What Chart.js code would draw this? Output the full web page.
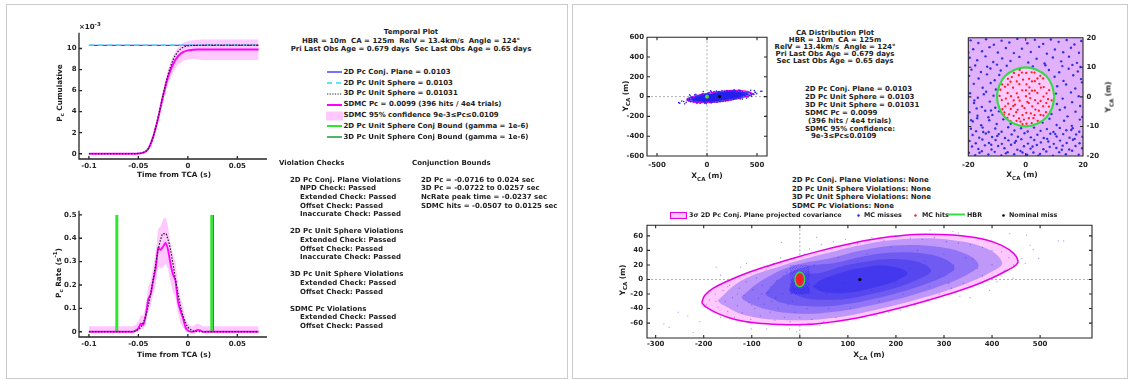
<!DOCTYPE html>
<html><head><meta charset="utf-8">
<script src="https://cdn.jsdelivr.net/npm/chart.js@4.4.1/dist/chart.umd.min.js"></script>
<style>
body{margin:0;width:1130px;height:380px;background:#fff;position:relative;overflow:hidden;font-family:"DejaVu Sans";}
.pn{position:absolute;box-sizing:border-box;border:1.5px solid #cbcbcb;}
.t{position:absolute;font-family:"DejaVu Sans";font-weight:bold;font-size:7px;line-height:9px;white-space:pre;color:#1e1e1e;}
.c{transform:translateX(-50%);}
.r{transform:translate(-50%,-50%) rotate(-90deg);}
canvas{position:absolute;}
sub,sup{font-size:5.5px;line-height:0;}
svg{position:absolute;overflow:visible;}
</style></head><body>
<div class="pn" style="left:6px;top:4px;width:562px;height:375px"></div>
<div class="pn" style="left:572px;top:4px;width:556px;height:375px"></div>
<script>
// ---------- DATA ----------
// Temporal plot: cumulative Pc (values in units of 1e-3)
const tCum = [-0.1,-0.095,-0.09,-0.085,-0.08,-0.075,-0.07,-0.065,-0.06,-0.055,-0.05,-0.045,-0.04,-0.035,-0.03,-0.025,-0.02,-0.015,-0.01,-0.005,0,0.005,0.01,0.015,0.02,0.025,0.03,0.035,0.04,0.045,0.05,0.055,0.06,0.065,0.0715];
const sdmcCumE3 = [0,0,0,0,0,0,0,0,0,0,0.02,0.1,0.45,1.6,3.4,5.5,7.3,8.5,9.25,9.65,9.82,9.87,9.9,9.9,9.9,9.9,9.9,9.9,9.9,9.9,9.9,9.9,9.9,9.9,9.9];
const pc3dCumE3 = [0,0,0,0,0,0,0,0,0,0.005,0.03,0.13,0.5,1.65,3.45,5.6,7.5,8.9,9.7,10.1,10.25,10.29,10.3,10.31,10.31,10.31,10.31,10.31,10.31,10.31,10.31,10.31,10.31,10.31,10.31];
const cumLowE3 = [0,0,0,0,0,0,0,0,0,0,0,0.05,0.35,1.35,3.0,4.95,6.6,7.75,8.45,8.8,8.95,9.0,8.95,8.9,8.9,8.9,8.9,8.9,8.9,8.9,8.9,8.9,8.9,8.9,8.9];
const cumUpE3 = [0,0,0,0,0,0,0,0,0,0,0.05,0.17,0.6,1.9,3.85,6.05,8.0,9.3,10.1,10.5,10.7,10.78,10.83,10.85,10.85,10.85,10.85,10.85,10.85,10.85,10.85,10.85,10.85,10.85,10.85];
const flatT = [-0.1, 0.0715];
const pc2dPlaneE3 = [10.3, 10.3];
const pc2dSphereE3 = [10.3, 10.3];
// Temporal plot: Pc rate (1/s)
const tRate = [-0.1,-0.09,-0.08,-0.07,-0.06,-0.055,-0.0525,-0.05,-0.0475,-0.045,-0.0425,-0.04,-0.0375,-0.035,-0.0325,-0.03,-0.0275,-0.025,-0.0225,-0.02,-0.0175,-0.015,-0.0125,-0.01,-0.0075,-0.005,-0.0025,0,0.0025,0.005,0.0075,0.01,0.0125,0.015,0.02,0.03,0.04,0.05,0.06,0.0715];
const sdmcRate = [0,0,0,0,0,0,0.005,0.015,0.035,0.03,0.07,0.14,0.16,0.22,0.27,0.36,0.35,0.365,0.38,0.35,0.29,0.245,0.22,0.13,0.09,0.06,0.02,0.005,0,0,0.003,0.008,0.006,0,0,0,0,0,0,0];
const pc3dRate = [0,0,0,0,0,0.002,0.005,0.01,0.02,0.04,0.07,0.11,0.165,0.225,0.29,0.35,0.395,0.42,0.42,0.395,0.35,0.29,0.225,0.165,0.11,0.07,0.04,0.02,0.01,0.004,0.002,0,0,0,0,0,0,0,0,0];
const rateUp = [0.024,0.024,0.024,0.024,0.024,0.024,0.03,0.045,0.07,0.07,0.11,0.19,0.22,0.28,0.34,0.44,0.45,0.48,0.49,0.45,0.38,0.33,0.3,0.2,0.15,0.11,0.06,0.035,0.025,0.024,0.03,0.035,0.03,0.024,0.024,0.024,0.024,0.024,0.024,0.024];
const rateLow = [0,0,0,0,0,0,0,0,0.01,0.01,0.04,0.09,0.11,0.16,0.2,0.28,0.27,0.28,0.29,0.27,0.21,0.17,0.15,0.08,0.04,0.02,0,0,0,0,0,0,0,0,0,0,0,0,0,0];
const bound2d = [-0.0716, 0.024];
const bound3d = [-0.0722, 0.0257];
const boundY = [0, 0.5];
// Tick labels
const cumXTicks = [-0.1,-0.05,0,0.05];
const cumYTicks = [0,2,4,6,8,10];
const rateYTicks = [0,0.1,0.2,0.3,0.4,0.5];
const ovTicksX = [-500,0,500];
const ovTicksY = [-600,-400,-200,0,200,400,600];
const zmTicksX = [-20,0,20];
const zmTicksY = [-20,-10,0,10,20];
const btTicksX = [-300,-200,-100,0,100,200,300,400,500];
const btTicksY = [-60,-40,-20,0,20,40,60];
// CA distribution: 3-sigma covariance ellipse boundary (m)
const covEllipseX = [-204,-198,-180,-150,-110,-60,-10,40,90,140,190,240,290,340,385,420,445,454,450,430,400,360,310,260,210,160,110,60,10,-40,-90,-135,-170,-195,-204];
const covEllipseY = [-32,-22,-12,-2,9,20,30,39,47,54,59,62,62,60,55,47,36,26,20,12,2,-9,-20,-30,-39,-47,-54,-59,-62,-62,-60,-55,-47,-38,-32];
// HBR circle (m)
const hbrX = [10,9.2,7.1,3.8,0,-3.8,-7.1,-9.2,-10,-9.2,-7.1,-3.8,0,3.8,7.1,9.2,10];
const hbrY = [0,3.8,7.1,9.2,10,9.2,7.1,3.8,0,-3.8,-7.1,-9.2,-10,-9.2,-7.1,-3.8,0];
const nominalMiss = [[125,0]];
// Density contours of the MC misses cloud (overview scale, outer to inner)
const missDensity90 = [[-171,-29],[-123,-2],[-42,18],[49,35],[139,49],[229,56],[319,54],[391,42],[421,23],[400,11],[337,-8],[247,-27],[157,-42],[67,-53],[-24,-56],[-109,-50],[-163,-34],[-171,-29]];
const missDensity75 = [[-122,-24],[-81,-2],[-14,19],[61,29],[136,41],[211,47],[286,45],[346,35],[372,20],[354,9],[301,-7],[226,-23],[151,-35],[76,-44],[1,-47],[-70,-41],[-115,-29],[-122,-24]];
const missDensity60 = [[-72,-19],[-40,2],[8,17],[74,23],[134,32],[194,37],[254,36],[302,28],[322,16],[308,7],[266,-5],[206,-18],[146,-28],[86,-35],[26,-37],[-31,-33],[-67,-23],[-72,-19]];
const missDensity45 = [[-23,-14],[-6,6],[42,9],[87,18],[132,24],[177,28],[222,27],[258,21],[273,12],[262,5],[231,-4],[186,-14],[141,-21],[96,-27],[51,-28],[8,-25],[-19,-17],[-23,-14]];
const missDensity30 = [[26,-10],[43,-1],[70,6],[100,12],[130,16],[160,19],[190,18],[214,14],[224,8],[217,4],[196,-3],[166,-9],[136,-14],[106,-18],[76,-19],[47,-17],[29,-11],[26,-10]];
// Miss region around the HBR (zoom view), with the HBR disc excluded
const missAroundHbr = [[-21,0],[-21,21],[21,21],[21,-21],[-21,-21],[-21,0],[-10,0],[-9.2,-3.8],[-7.1,-7.1],[-3.8,-9.2],[0,-10],[3.8,-9.2],[7.1,-7.1],[9.2,-3.8],[10,0],[9.2,3.8],[7.1,7.1],[3.8,9.2],[0,10],[-3.8,9.2],[-7.1,7.1],[-9.2,3.8],[-10,0],[-21,0]];
// Individual MC hits (m)
const mcHits = [[-7.2,3.4],[-6.1,-2.3],[-5.3,5.1],[-4.2,-6.4],[-3.1,1.2],[-2.4,7.3],[-1.2,-3.1],[0.3,4.2],[1.1,-7.2],[2.2,2.1],[3.4,-4.3],[4.1,6.2],[5.2,-1.4],[6.3,3.3],[7.1,-5.2],[-8.3,-1.1],[-7.4,-5.3],[-6.2,6.1],[-5.1,0.2],[-4.4,3.1],[-3.2,-8.1],[-2.1,-1.3],[-1.3,8.2],[0.2,-5.4],[1.3,1.1],[2.1,-8.9],[3.2,5.3],[4.3,-2.2],[5.1,7.1],[6.2,-6.3],[7.3,1.2],[8.1,-3.3],[-8.2,4.2],[-6.4,-7.1],[-5.2,-4.1],[-4.1,8.1],[-3.3,-5.2],[-2.2,4.3],[-1.1,-6.2],[0.1,0.2],[1.2,6.1],[2.3,-3.2],[3.1,8.2],[4.2,-8.1],[5.3,3.1],[6.1,-3.2],[8.2,2.3],[-9.1,0.3],[-7.1,-3.2],[-6.3,1.3],[-4.2,-1.2],[-3.1,5.2],[-2.3,-7.3],[-1.2,2.2],[0.3,-9.1],[1.1,-2.1],[2.2,5.2],[3.3,-1.1],[4.1,1.3],[5.2,-6.1],[6.1,6.2],[7.2,-2.1],[-5.3,-8.2],[-2.1,9.1],[0.2,8.1],[1.3,3.2],[3.2,2.1],[-1.1,-9.2],[2.1,8.3],[-8.1,-4.2],[9.1,-1.2],[-4.3,-3.1],[0.1,2.2],[3.1,-6.2],[-6.2,4.1],[6.2,0.1],[-7.6,-6.1],[-3.7,-2.6],[-0.6,-7.7],[1.8,-5.6],[-5.8,-5.9],[4.6,-4.7],[-2.8,-4.4],[-0.4,-3.8],[2.7,-7.2],[-8.8,2.4],[-6.9,-0.6],[-4.8,6.7],[-0.9,5.8],[1.6,-0.4],[4.8,4.4],[7.8,-0.8],[-2.6,-0.2],[0.6,-1.7],[-1.8,-8.4]];
// Individual MC misses (m)
const mcMisses = [
[-19.2,19.1],[-16.5,18.2],[-13.8,19.5],[-11.1,17.6],[-8.4,19.0],[-5.7,18.4],[-2.9,19.6],[0.6,18.1],[3.2,19.3],[6.1,17.9],[8.8,19.4],[11.5,18.6],[14.3,19.2],[17.0,17.7],[19.4,18.9],
[-18.3,16.1],[-15.2,15.4],[-12.6,16.8],[-9.7,15.0],[-6.9,16.5],[-4.1,14.8],[-1.3,16.3],[1.8,15.2],[4.7,16.9],[7.4,14.6],[10.2,16.0],[13.1,15.1],[15.8,16.6],[18.6,14.9],
[-19.5,13.2],[-16.9,12.4],[-14.0,13.7],[-11.3,11.8],[-8.2,13.0],[-5.3,12.1],[-2.2,13.5],[0.9,11.6],[3.8,12.9],[6.6,11.3],[9.5,13.3],[12.4,12.0],[15.1,13.6],[17.9,11.5],
[-17.6,10.6],[-13.4,10.2],[-10.0,10.9],[12.8,10.4],[16.3,10.8],[19.1,10.1],[-6.6,10.5],[6.9,10.7],[2.5,10.3],
[-18.9,9.2],[-15.6,8.4],[-12.3,9.6],[-8.7,8.9],[8.1,9.1],[11.7,8.3],[15.0,9.5],[18.2,8.6],
[-19.7,7.1],[-16.4,6.2],[-13.5,7.6],[-10.8,5.6],[10.1,6.8],[13.2,5.4],[16.6,7.3],[19.3,6.0],[-9.2,7.4],
[-18.1,4.4],[-15.0,3.1],[-12.2,4.7],[-10.4,2.5],[11.0,3.6],[14.1,4.2],[17.3,2.8],[19.6,4.9],
[-19.4,1.2],[-16.7,-0.3],[-13.8,1.7],[-11.2,0.4],[10.6,1.1],[12.9,-0.6],[15.8,1.5],[18.5,0.2],
[-18.0,-2.1],[-15.3,-3.4],[-12.5,-1.6],[-10.6,-3.7],[10.9,-2.4],[13.7,-3.6],[16.2,-1.8],[19.0,-3.1],[-17.1,-3.9],
[-19.6,-5.2],[-16.8,-6.4],[-14.1,-4.7],[-11.6,-6.1],[-9.3,-4.9],[9.0,-5.8],[11.9,-4.4],[14.6,-6.6],[17.4,-5.0],[19.8,-6.8],[-13.0,-6.9],
[-18.4,-8.3],[-15.5,-9.6],[-12.7,-7.9],[-10.1,-9.2],[-7.8,-7.6],[-5.2,-9.1],[5.9,-8.7],[8.3,-7.4],[10.8,-9.5],[13.4,-8.1],[16.1,-9.8],[18.9,-7.7],[-16.9,-7.2],
[-19.1,-10.8],[-17.3,-11.6],[-15.0,-10.4],[-12.9,-11.9],[-10.6,-10.7],[-8.4,-11.8],[-6.1,-10.3],[-3.9,-11.4],[-1.6,-10.6],[0.7,-11.7],[2.9,-10.4],[5.2,-11.5],[7.4,-10.9],[9.7,-11.9],[11.9,-10.5],[14.2,-11.3],[16.4,-10.6],[18.7,-11.8],
[-18.5,-12.9],[-16.2,-13.8],[-13.9,-12.4],[-11.7,-13.6],[-9.4,-12.6],[-7.2,-13.9],[-4.9,-12.7],[-2.7,-13.5],[-0.4,-12.3],[1.8,-13.7],[4.1,-12.8],[6.3,-13.9],[8.6,-12.5],[10.8,-13.4],[13.1,-12.6],[15.3,-13.8],[17.6,-12.7],[19.8,-13.5],
[-19.6,-14.9],[-17.4,-15.7],[-15.1,-14.4],[-12.8,-15.6],[-10.5,-14.6],[-8.3,-15.9],[-6.0,-14.7],[-3.8,-15.5],[-1.5,-14.3],[0.8,-15.8],[3.0,-14.6],[5.3,-15.4],[7.5,-14.2],[9.8,-15.9],[12.0,-14.8],[14.3,-15.6],[16.5,-14.5],[18.8,-15.7],
[-18.7,-16.8],[-16.5,-17.6],[-14.2,-16.4],[-11.9,-17.8],[-9.6,-16.6],[-7.4,-17.4],[-5.1,-16.2],[-2.9,-17.9],[-0.6,-16.7],[1.7,-17.5],[3.9,-16.3],[6.2,-17.7],[8.4,-16.9],[10.7,-17.3],[12.9,-16.5],[15.2,-17.8],[17.4,-16.6],[19.7,-17.4],
[-19.8,-18.9],[-17.6,-19.7],[-15.3,-18.4],[-13.0,-19.5],[-10.8,-18.6],[-8.5,-19.8],[-6.3,-18.7],[-4.0,-19.4],[-1.8,-18.3],[0.5,-19.6],[2.7,-18.8],[5.0,-19.3],[7.2,-18.5],[9.5,-19.9],[11.7,-18.7],[14.0,-19.4],[16.2,-18.2],[18.5,-19.6],
[-17.9,-1.2],[-14.6,0.9],[-12.1,-4.6],[-19.0,-7.9],[-14.8,-11.9],[-9.9,-13.2],[-3.4,-14.9],[2.4,-16.8],[7.9,-15.1],[12.6,-17.9],[17.1,-14.2],[-16.1,-18.9],[-6.9,-19.1],[4.4,-19.9],[10.3,-12.6],[-12.0,-16.2],[15.9,-11.2],[-1.1,-18.8],
[-283,-61],[-272,-66],[-253,-45],[-233,-50],[-222,-73],[-208,-58],[-174,17],[-165,6],[-123,17],[-111,22],[-38,51],[35,58],[-21,-68],[-7,-72],[-69,-68],[-101,-68],[42,-63],[271,68],[319,66],[330,64],[437,63],[472,61],[479,47],[486,41],[497,29],[462,29],[469,22],[444,2],[538,53],[549,53],[354,-25],[333,-23],[410,-3],[395,-15],
[-195,-35],[-188,-28],[-180,-45],[-176,-20],[-170,-38],[-165,-52],[-160,-15],[-155,-30],[-150,-44],[-146,-8],[-140,-25],[-136,-52],[-130,-36],[-126,-12],[-120,-46],[-116,-22],[-112,-3],[-106,-32],[-102,-55],[-98,-14],[-94,-40],[-90,2],[-86,-26],[-82,-50],[-78,-8],[-74,-34],[-70,14],[-66,-18],[-62,-45],[-58,-30],[-55,22],[-52,-56],[-48,-2],[-45,-40],[-40,30],[-36,-20],[-32,-52],[-28,10],[-25,-35],
[20,42],[45,48],[70,52],[95,55],[120,50],[150,58],[175,54],[200,60],[230,57],[255,55],[280,58],[305,52],[330,50],[355,48],[380,44],[400,40],[420,38],[435,30],[445,20],[425,12],[400,20],[380,5],[360,28],[340,-5],[315,-12],[290,-20],[265,-28],[240,-35],[210,-42],[185,-45],[160,-50],[130,-52],[100,-56],[75,-52],[50,-58],[25,-55],[0,-52],[-20,-58],[60,-40],[10,35],[-10,-45],
[-60,-10],[-35,5],[-15,-30],[30,20],[55,-20],[80,30],[105,-40],[140,35],[165,-30],[190,45],[215,-20],[245,40],[270,-10],[300,35],[320,20],[345,30],[370,15],[-50,-25],[-20,15],[15,-40],[40,-10],[90,-5],[120,25],[150,-15],[180,10],[200,-5],[230,15],[260,25],[290,5],[310,-5],[-100,-35],[-80,-20],[-130,-20],[-150,-10],[-175,-30]
];

// ---------- HELPERS ----------
const FONT = {family:'DejaVu Sans', size:7, weight:'bold'};
const INK = '#262626';
const xy = (xs, ys) => xs.map((x,i)=>({x, y:ys[i]}));
const pts = arr => arr.map(p=>({x:p[0], y:p[1]}));
const line = (data, color, w, extra) => Object.assign({data, showLine:true, borderColor:color, borderWidth:w, pointRadius:0, fill:false}, extra||{});
const dots = (data, color, r, order) => ({data, showLine:false, pointRadius:r, pointBorderWidth:0, pointBackgroundColor:color, pointBorderColor:color, order});
const shape = (data, fillColor, border, w, order, tension) => ({data, showLine:true, fill:'shape', backgroundColor:fillColor, borderColor:border||'rgba(0,0,0,0)', borderWidth:w||0, pointRadius:0, tension:tension==null?0.4:tension, order});

const axesPlugin = {
  id:'axes',
  beforeDatasetsDraw(ch, a, o){
    if(!o.cross) return;
    const {ctx, chartArea:A} = ch;
    const x0 = ch.scales.x.getPixelForValue(0), y0 = ch.scales.y.getPixelForValue(0);
    ctx.save(); ctx.strokeStyle='#a8a8a8'; ctx.lineWidth=0.9; ctx.setLineDash([2,2]);
    ctx.beginPath(); ctx.moveTo(x0,A.top); ctx.lineTo(x0,A.bottom); ctx.moveTo(A.left,y0); ctx.lineTo(A.right,y0); ctx.stroke();
    ctx.restore();
  },
  afterDraw(ch, a, o){
    const {ctx, chartArea:A} = ch; const L = o.len||3;
    ctx.save(); ctx.strokeStyle=INK; ctx.lineWidth=o.lw||1.2; ctx.beginPath();
    if(o.box){ ctx.rect(A.left,A.top,A.right-A.left,A.bottom-A.top); }
    else { ctx.moveTo(A.left,A.top); ctx.lineTo(A.left,A.bottom); ctx.lineTo(A.right,A.bottom); }
    const xs=ch.scales.x, ys=ch.scales.y;
    xs.ticks.forEach(t=>{ const p=xs.getPixelForValue(t.value); ctx.moveTo(p,A.bottom); ctx.lineTo(p,A.bottom-L); if(o.box){ctx.moveTo(p,A.top); ctx.lineTo(p,A.top+L);} });
    ys.ticks.forEach(t=>{ const p=ys.getPixelForValue(t.value); ctx.moveTo(A.left,p); ctx.lineTo(A.left+L,p); if(o.box){ctx.moveTo(A.right,p); ctx.lineTo(A.right-L,p);} });
    ctx.stroke(); ctx.restore();
  }
};

function mk(area, yRight, datasets, sx, sy, plug){
  const PAD=6, YW=40, XH=24;
  const c=document.createElement('canvas');
  const left = area.l - (yRight?PAD:YW), top = area.t - PAD;
  const w = (area.r-area.l) + YW + PAD, h = (area.b-area.t) + PAD + XH;
  c.width=w; c.height=h; c.style.left=left+'px'; c.style.top=top+'px';
  document.body.appendChild(c);
  const tk = (arr) => (s => { s.ticks = arr.map(v=>({value:v})); });
  new Chart(c, {type:'scatter', data:{datasets}, plugins:[axesPlugin], options:{
    responsive:false, animation:false, devicePixelRatio:1,
    layout:{padding:{top:PAD, right:yRight?0:PAD, left:yRight?PAD:0, bottom:0}},
    plugins:{legend:{display:false}, tooltip:{enabled:false}, axes:plug},
    scales:{
      x:{type:'linear', min:sx.min, max:sx.max, afterBuildTicks:tk(sx.ticks), afterFit:s=>{s.height=XH;},
         grid:{display:false, drawTicks:false}, border:{display:false},
         ticks:{font:FONT, color:INK, padding:sx.pad, autoSkip:false, maxRotation:0, callback:v=>String(v)}},
      y:{type:'linear', position:yRight?'right':'left', min:sy.min, max:sy.max, afterBuildTicks:tk(sy.ticks), afterFit:s=>{s.width=YW;},
         grid:{display:false, drawTicks:false}, border:{display:false},
         ticks:{font:FONT, color:INK, padding:sy.pad, autoSkip:false, callback:v=>String(v)}}
    }
  }});
}

// ---------- LEFT: TEMPORAL PLOTS ----------
const PINK='#ffc8ff', MAG='#ff00ff', BLUE='#4646ff', CYAN='#22dcff', G2='#2ee82e', G3='#1f9a36';
mk({l:79,r:267,t:32,b:159}, false, [
  line(xy(tCum,cumLowE3),'rgba(0,0,0,0)',0,{order:20}),
  line(xy(tCum,cumUpE3),'rgba(0,0,0,0)',0,{fill:'-1', backgroundColor:PINK, order:19}),
  line(xy(flatT,pc2dPlaneE3),BLUE,1.4,{order:6}),
  line(xy(flatT,pc2dSphereE3),CYAN,1.5,{borderDash:[5,4],order:5}),
  line(xy(tCum,sdmcCumE3),MAG,2,{cubicInterpolationMode:'monotone',order:4}),
  line(xy(tCum,pc3dCumE3),'#1a1a1a',1.2,{borderDash:[1.5,1.5],cubicInterpolationMode:'monotone',order:3})
], {min:-0.11,max:0.08,ticks:cumXTicks,pad:3}, {min:-0.5,max:11.5,ticks:cumYTicks,pad:2.5}, {box:false,len:3,lw:1.3});

mk({l:79,r:267,t:210,b:337}, false, [
  line(xy(tRate,rateLow),'rgba(0,0,0,0)',0,{order:20}),
  line(xy(tRate,rateUp),'rgba(0,0,0,0)',0,{fill:'-1', backgroundColor:PINK, order:19}),
  line(xy([bound3d[0],bound3d[0]],boundY),G3,1.5,{order:8}),
  line(xy([bound3d[1],bound3d[1]],boundY),G3,1.5,{order:8}),
  line(xy([bound2d[0],bound2d[0]],boundY),G2,2.6,{order:7}),
  line(xy([bound2d[1],bound2d[1]],boundY),G2,2.6,{order:7}),
  line(xy(tRate,sdmcRate),MAG,1.8,{tension:0.15,order:4}),
  line(xy(tRate,pc3dRate),'#1a1a1a',1.2,{borderDash:[1.5,1.5],cubicInterpolationMode:'monotone',order:3})
], {min:-0.11,max:0.08,ticks:cumXTicks,pad:3}, {min:-0.0225,max:0.518,ticks:rateYTicks,pad:2.5}, {box:false,len:3,lw:1.3});

// ---------- RIGHT: CA DISTRIBUTION ----------
const ell = xy(covEllipseX, covEllipseY), hbr = xy(hbrX, hbrY);
const MISS='#2222f0', HIT='#ff1e1e', HBRC='#36d948';
const layer = (arr, a, order) => shape(pts(arr), `rgba(22,22,235,${a})`, null, 0, order);
// overview
mk({l:647,r:767,t:36,b:156}, false, [
  shape(ell, PINK, '#e600e6', 1.2, 20),
  layer(missDensity90, 0.85, 19),
  layer(missDensity75, 0.6, 18),
  dots(pts(mcMisses), MISS, 0.8, 7),
  dots(pts(mcHits), HIT, 0.8, 6),
  line(hbr, HBRC, 2, {tension:0.4, order:5}),
  dots(pts(nominalMiss), '#000', 1.6, 4)
], {min:-600,max:600,ticks:ovTicksX,pad:5}, {min:-600,max:600,ticks:ovTicksY,pad:3}, {box:true,len:3,lw:1.1,cross:true});
// zoom on HBR
mk({l:963,r:1083,t:36,b:156}, true, [
  shape(ell, PINK, '#e600e6', 1.2, 10),
  shape(pts(missAroundHbr), 'rgba(60,50,230,0.15)', null, 0, 9, 0),
  dots(pts(mcMisses), '#3030e0', 1.2, 7),
  dots(pts(mcHits), HIT, 1.15, 6),
  line(hbr, HBRC, 2.2, {tension:0.4, order:5}),
  dots(pts(nominalMiss), '#000', 1.6, 4)
], {min:-20,max:20,ticks:zmTicksX,pad:5}, {min:-20,max:20,ticks:zmTicksY,pad:3.5}, {box:true,len:3,lw:1.1});
// main distribution
mk({l:647,r:1092,t:223,b:338}, false, [
  shape(ell, PINK, '#e600e6', 1.5, 20),
  layer(missDensity90, 0.27, 19),
  layer(missDensity75, 0.27, 18),
  layer(missDensity60, 0.28, 17),
  layer(missDensity45, 0.28, 16),
  layer(missDensity30, 0.3, 15),
  dots(pts(mcMisses), 'rgba(30,30,240,0.45)', 0.6, 6),
  dots(pts(mcHits), HIT, 0.8, 5),
  line(hbr, HBRC, 1.5, {tension:0.4, order:4}),
  dots(pts(nominalMiss), '#000', 1.6, 3)
], {min:-318,max:608,ticks:btTicksX,pad:2}, {min:-80.5,max:74.7,ticks:btTicksY,pad:4}, {box:true,len:3,lw:1.1,cross:true});

// ---------- TEXT ----------
function T(html, x, y, mode, size){
  const d=document.createElement('div'); d.className='t'+(mode==='c'?' c':mode==='r'?' r':'');
  d.innerHTML=html; d.style.left=x+'px';
  if(size) d.style.fontSize=size+'px';
  d.style.top=(mode==='r'? y : (y-4.5))+'px';
  document.body.appendChild(d); return d;
}
function S(inner, x, y, w, h){
  const ns='http://www.w3.org/2000/svg'; const s=document.createElementNS(ns,'svg');
  s.setAttribute('width',w); s.setAttribute('height',h); s.style.left=x+'px'; s.style.top=y+'px';
  s.innerHTML=inner; document.body.appendChild(s);
}
// left axes titles
T('×10<sup>-3</sup>', 79, 27.5);
T('P<sub>c</sub> Cumulative', 59, 93, 'r', 7.3);
T('Time from TCA (s)', 174, 174.5, 'c', 7.3);
T('P<sub>c</sub> Rate (s<sup>-1</sup>)', 58, 273, 'r', 7.3);
T('Time from TCA (s)', 174, 354, 'c', 7.3);
// left header
T('Temporal Plot', 411, 32, 'c');
T('HBR = 10m  CA = 125m  RelV = 13.4km/s  Angle = 124°', 411, 41, 'c');
T('Pri Last Obs Age = 0.679 days  Sec Last Obs Age = 0.65 days', 411, 49.5, 'c');
// left legend
const legY = [72.3, 83.1, 93.9, 104.7, 115.5, 126.3, 137.1];
const legTxt = ['2D Pc Conj. Plane = 0.0103','2D Pc Unit Sphere = 0.0103','3D Pc Unit Sphere = 0.01031','SDMC Pc = 0.0099 (396 hits / 4e4 trials)','SDMC 95% confidence 9e-3≤Pc≤0.0109','2D Pc Unit Sphere Conj Bound (gamma = 1e-6)','3D Pc Unit Sphere Conj Bound (gamma = 1e-6)'];
const legSvg = [
  `<line x1="0" y1="2" x2="15" y2="2" stroke="${BLUE}" stroke-width="1.5"/>`,
  `<line x1="0" y1="2" x2="15" y2="2" stroke="${CYAN}" stroke-width="1.5" stroke-dasharray="5,4"/>`,
  `<line x1="0" y1="2" x2="15" y2="2" stroke="#333" stroke-width="1.2" stroke-dasharray="1.3,1.3"/>`,
  `<line x1="0" y1="2" x2="15" y2="2" stroke="${MAG}" stroke-width="2"/>`,
  `<rect x="-1" y="-2.5" width="17" height="9" fill="${PINK}"/>`,
  `<line x1="0" y1="2" x2="15" y2="2" stroke="${G2}" stroke-width="2"/>`,
  `<line x1="0" y1="2" x2="15" y2="2" stroke="${G3}" stroke-width="1.5"/>`
];
legY.forEach((y,i)=>{ S(legSvg[i], 327, y-2, 15, 4); T(legTxt[i], 343.5, y); });
// violation checks
T('Violation Checks', 279, 163);
T('Conjunction Bounds', 412, 163);
const vc = [
 ['2D Pc Conj. Plane Violations',290,180],['NPD Check: Passed',300,188.7],['Extended Check: Passed',300,197.3],['Offset Check: Passed',300,206],['Inaccurate Check: Passed',300,214.7],
 ['2D Pc Unit Sphere Violations',290,231.7],['Extended Check: Passed',300,240.3],['Offset Check: Passed',300,249],['Inaccurate Check: Passed',300,257.7],
 ['3D Pc Unit Sphere Violations',290,274.7],['Extended Check: Passed',300,283.3],['Offset Check: Passed',300,292],
 ['SDMC Pc Violations',290,309],['Extended Check: Passed',300,317.7],['Offset Check: Passed',300,326.3],
 ['2D Pc = -0.0716 to 0.024 sec',421,180],['3D Pc = -0.0722 to 0.0257 sec',421,188.7],['NcRate peak time = -0.0237 sec',421,197.3],['SDMC hits = -0.0507 to 0.0125 sec',421,206]
];
vc.forEach(v=>T(v[0],v[1],v[2]));
// right header
T('CA Distribution Plot', 835, 33.3, 'c');
T('HBR = 10m  CA = 125m', 835, 40.8, 'c');
T('RelV = 13.4km/s  Angle = 124°', 835, 47.8, 'c');
T('Pri Last Obs Age = 0.679 days', 835, 54.6, 'c');
T('Sec Last Obs Age = 0.65 days', 835, 61.7, 'c');
[['2D Pc Conj. Plane = 0.0103',805,89.3],['2D Pc Unit Sphere = 0.0103',805,97.3],['3D Pc Unit Sphere = 0.01031',805,105.3],['SDMC Pc = 0.0099',805,113.3],['(396 hits / 4e4 trials)',808,121.2],['SDMC 95% confidence:',805,129.2],['9e-3≤Pc≤0.0109',811,136.8],
 ['2D Pc Conj. Plane Violations: None',792,180.5],['2D Pc Unit Sphere Violations: None',792,189],['3D Pc Unit Sphere Violations: None',792,197.5],['SDMC Pc Violations: None',792,206]].forEach(v=>T(v[0],v[1],v[2]));
// right axes titles
T('Y<sub>CA</sub> (m)', 625, 96, 'r', 7.5);
T('X<sub>CA</sub> (m)', 707, 175.5, 'c', 7.5);
T('Y<sub>CA</sub> (m)', 1108, 96.5, 'r', 7.5);
T('X<sub>CA</sub> (m)', 1022, 174.7, 'c', 7.5);
T('Y<sub>CA</sub> (m)', 622, 280, 'r', 7.5);
T('X<sub>CA</sub> (m)', 869, 354, 'c', 7.5);
// bottom legend
S(`<rect x="0.5" y="0.5" width="16" height="6" fill="${PINK}" stroke="#e600e6" stroke-width="1"/>`, 670, 211.5, 17, 7);
T('3σ 2D Pc Conj. Plane projected covariance', 689, 215, '', 6.4);
S(`<circle cx="1.5" cy="1.5" r="1.2" fill="${MISS}"/>`, 856.5, 213.5, 3, 3);
T('MC misses', 864, 215, '', 6.4);
S(`<circle cx="1.5" cy="1.5" r="1.2" fill="${HIT}"/>`, 913.5, 213.5, 3, 3);
T('MC hits', 922, 215, '', 6.4);
S(`<line x1="0" y1="1.5" x2="17" y2="1.5" stroke="${HBRC}" stroke-width="2"/>`, 948, 213.2, 17, 3);
T('HBR', 967, 215, '', 6.4);
S(`<circle cx="1.5" cy="1.5" r="1.3" fill="#000"/>`, 1001.5, 213.5, 3, 3);
T('Nominal miss', 1009, 215, '', 6.4);
</script>
</body></html>
